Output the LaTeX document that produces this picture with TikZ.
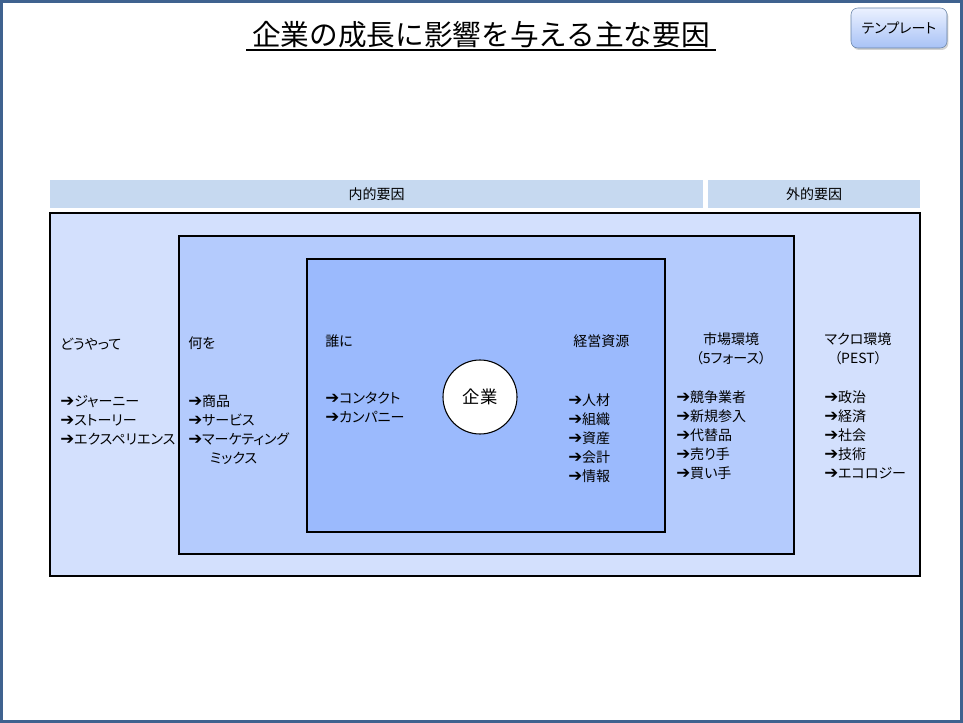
\documentclass[tikz,border=0pt]{standalone}
\usepackage{fontspec}
\setmainfont{Noto Sans CJK JP}[RawFeature={+palt}]
\newfontfamily\titlefont{Noto Sans CJK JP}
\newfontfamily\arrowfont{DejaVu Sans}
\usetikzlibrary{positioning}
\usetikzlibrary{shadows}

\definecolor{frameblue}{RGB}{63,98,143}
\definecolor{headfill}{RGB}{198,217,240}
\definecolor{outerfill}{RGB}{211,224,253}
\definecolor{midfill}{RGB}{180,203,253}
\definecolor{innerfill}{RGB}{155,186,253}
\definecolor{btntop}{RGB}{235,241,255}
\definecolor{btnbot}{RGB}{168,194,246}

\newcommand{\ar}{{\arrowfont\bfseries\fontsize{12.5}{14.3}\selectfont ➔}}

\begin{document}
\begin{tikzpicture}[x=0.75pt,y=-0.75pt,
  every node/.style={inner sep=0pt,font=\fontsize{10.5}{14.3}\selectfont},
  head bar/.style={fill=headfill,draw=none},
  layer box/.style={draw=black,line width=0.8pt},
  heading/.style={anchor=west},
  item list/.style={anchor=north west,align=left},
  center head/.style={align=center}]

  \useasboundingbox (0,0) rectangle (963,723);
  \draw[frameblue,fill=white,line width=2.25pt] (1.5,1.5) rectangle (961.5,721.5);

  % title and button
  \node (title) at (481,35) {\titlefont\fontsize{21.5}{24}\selectfont 企業の成長に影響を与える主な要因};
  \draw[line width=1.5pt] (246,50) -- (716,50);
  \node[draw=frameblue!80,rounded corners=5pt,top color=btntop,bottom color=btnbot,
    drop shadow={opacity=0.35,shadow xshift=1pt,shadow yshift=-1.5pt},
    minimum width=72pt,minimum height=30pt] (tmpl) at (899,28) {テンプレート};

  % header bars
  \fill[head bar] (50,180) rectangle (703,208);
  \fill[head bar] (708,180) rectangle (920,208);
  \node (naiteki) at (376.5,194) {内的要因};
  \node (gaiteki) at (814,194) {外的要因};

  % nested boxes
  \draw[layer box,fill=outerfill] (50,213) rectangle (920,576);
  \draw[layer box,fill=midfill] (179,236) rectangle (794,554);
  \draw[layer box,fill=innerfill] (307,259) rectangle (665,532);
  \node[circle,draw=black,line width=0.8pt,fill=white,minimum size=74pt*0.75] (kigyo) at (480,397)
    {\fontsize{13}{15}\selectfont 企業};

  % outer column
  \node[heading] (douyatte) at (60,344) {どうやって};
  \node[item list] (douyatte list) at (60,395)
    {\ar ジャーニー\\ \ar ストーリー\\ \ar エクスペリエンス};

  % middle column
  \node[heading] (naniwo) at (188,343) {何を};
  \node[item list] (naniwo list) at (188,394)
    {\ar 商品\\ \ar サービス\\ \ar マーケティング\\ \hspace{1.55em}ミックス};

  % inner column
  \node[heading] (dareni) at (325,341) {誰に};
  \node[item list] (dareni list) at (325,392)
    {\ar コンタクト\\ \ar カンパニー};

  \node[heading] (shigen) at (573,341) {経営資源};
  \node[item list] (shigen list) at (568,393)
    {\ar 人材\\ \ar 組織\\ \ar 資産\\ \ar 会計\\ \ar 情報};

  % external factors
  \node[center head,anchor=north] (shijo) at (731,332) {市場環境\\（5フォース）};
  \node[item list] (shijo list) at (676,390)
    {\ar 競争業者\\ \ar 新規参入\\ \ar 代替品\\ \ar 売り手\\ \ar 買い手};

  \node[center head,anchor=north] (macro) at (858,332) {マクロ環境\\（PEST）};
  \node[item list] (macro list) at (824,390)
    {\ar 政治\\ \ar 経済\\ \ar 社会\\ \ar 技術\\ \ar エコロジー};
\end{tikzpicture}
\end{document}
